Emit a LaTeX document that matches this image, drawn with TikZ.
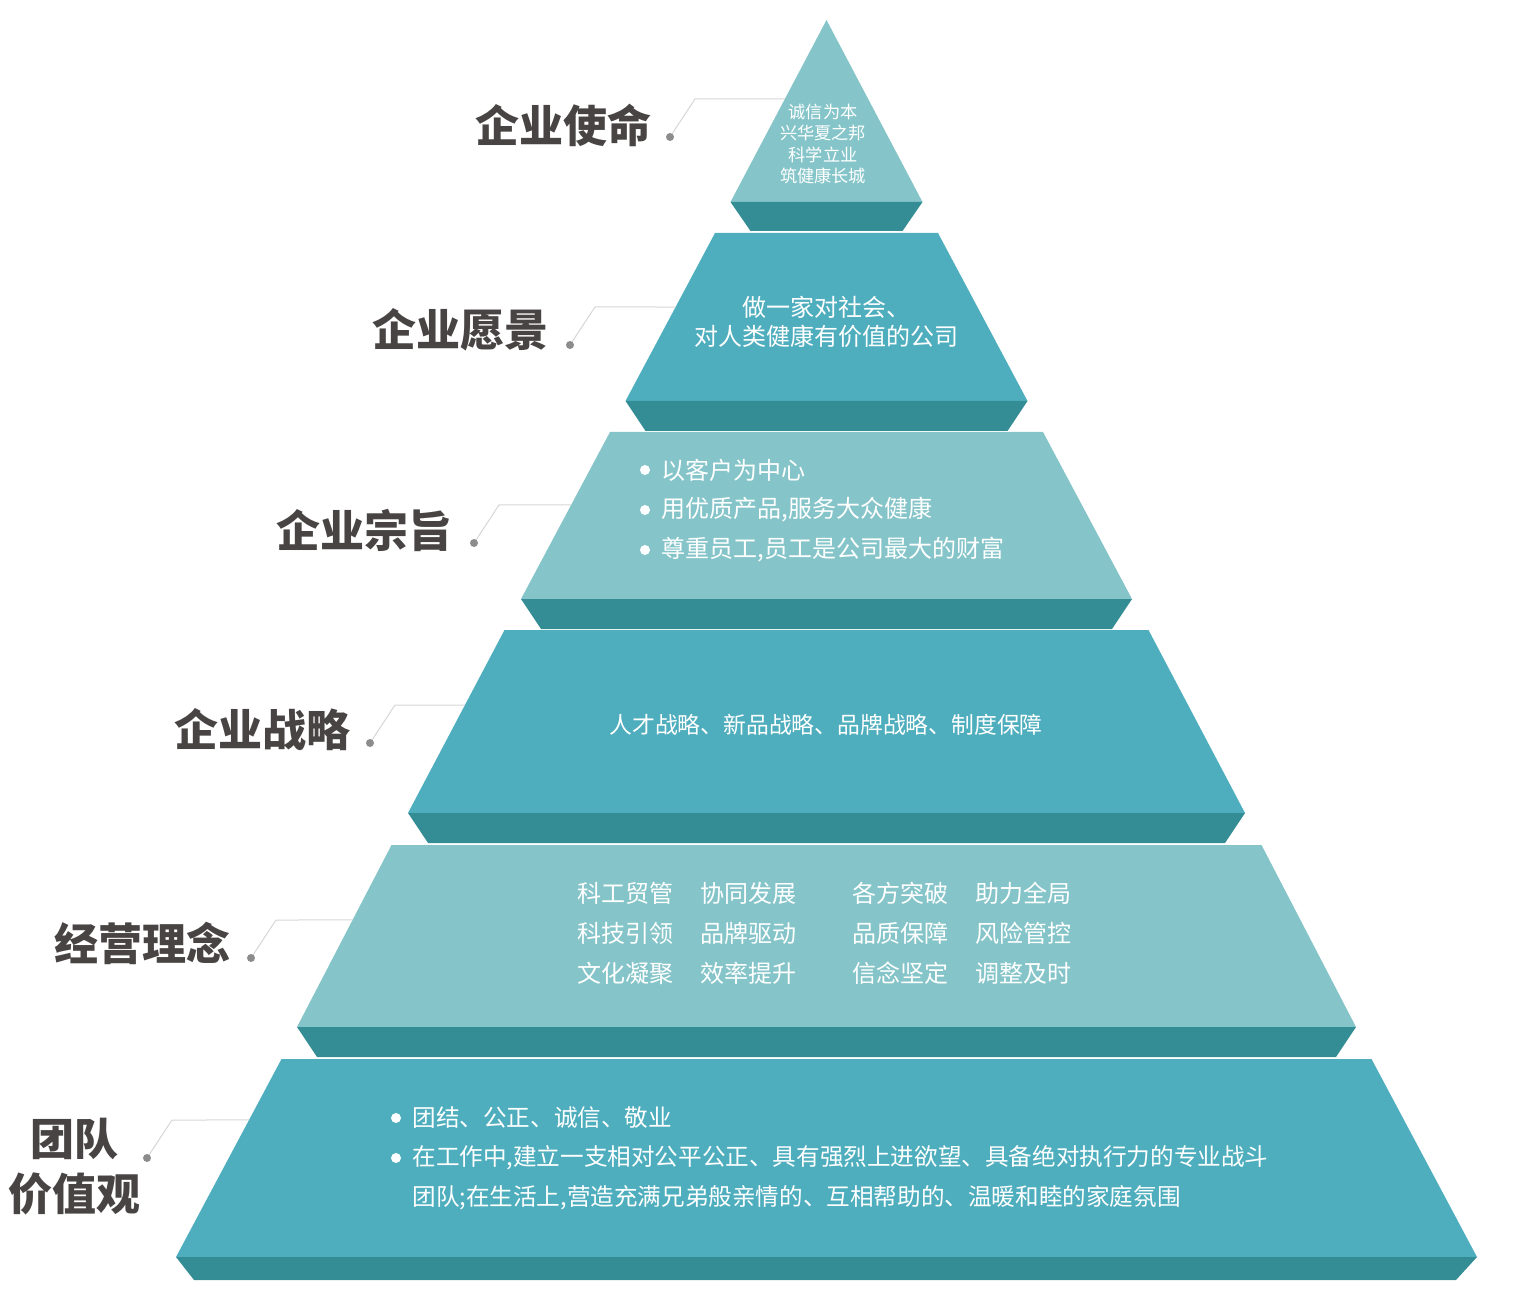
\documentclass[tikz,border=0pt]{standalone}
\usepackage{fontspec}
\setmainfont{Noto Sans CJK SC}
\usepackage{xcolor}
\usepackage{tikz}
\usetikzlibrary{calc}
\definecolor{facelight}{RGB}{133,197,201}
\definecolor{facedeep}{RGB}{79,174,190}
\definecolor{faceband}{RGB}{52,140,148}
\definecolor{titlegray}{RGB}{72,68,68}
\definecolor{leadgray}{RGB}{214,214,214}
\definecolor{dotgray}{RGB}{140,140,140}

\begin{document}
\begin{tikzpicture}[
    x=0.5pt, y=-0.5pt,
    light/.style={fill=facelight},
    deep/.style={fill=facedeep},
    band/.style={fill=faceband},
    title/.style={text=titlegray, font=\fontsize{22}{27.5}\selectfont\bfseries, inner sep=0pt, anchor=east, align=center},
    body/.style={text=white, font=\fontsize{12}{20}\selectfont, inner sep=0pt},
    leader/.style={draw=leadgray, line width=0.5pt},
    knob/.style={fill=dotgray}
]
\useasboundingbox (0,0) rectangle (1520,1304);
% pyramid layers, top to bottom
\fill[light] (826.5,20) coordinate (m top) -- (922.5,202) coordinate (m r) -- (730.5,202) coordinate (m l) -- cycle;
\fill[band] (m l) -- (m r) -- ++(-20,29) -- ($(m l)+(20,29)$) -- cycle;
\fill[deep] (715,233) coordinate (v tl) -- (938,233) coordinate (v tr) -- (1027.5,401) coordinate (v r) -- (625.5,401) coordinate (v l) -- cycle;
\fill[band] (v l) -- (v r) -- ++(-20,30) -- ($(v l)+(20,30)$) -- cycle;
\fill[light] (610,432) coordinate (a tl) -- (1043,432) coordinate (a tr) -- (1132,599) coordinate (a r) -- (521,599) coordinate (a l) -- cycle;
\fill[band] (a l) -- (a r) -- ++(-20,30) -- ($(a l)+(20,30)$) -- cycle;
\fill[deep] (504.5,630) coordinate (s tl) -- (1148.5,630) coordinate (s tr) -- (1245,813) coordinate (s r) -- (408,813) coordinate (s l) -- cycle;
\fill[band] (s l) -- (s r) -- ++(-20,30) -- ($(s l)+(20,30)$) -- cycle;
\fill[light] (391.5,845) coordinate (o tl) -- (1261.5,845) coordinate (o tr) -- (1356,1027) coordinate (o r) -- (297,1027) coordinate (o l) -- cycle;
\fill[band] (o l) -- (o r) -- ++(-20,30) -- ($(o l)+(20,30)$) -- cycle;
\fill[deep] (281.5,1059) coordinate (t tl) -- (1371.5,1059) coordinate (t tr) -- (1477,1257) coordinate (t r) -- (176,1257) coordinate (t l) -- cycle;
\fill[band] (t l) -- (t r) -- ++(-21,23) -- ($(t l)+(18,23)$) -- cycle;
% texts on the layers
\node[body, font=\fontsize{8.6}{10.7}\selectfont, align=center] (mission) at (823,144) {诚信为本\\兴华夏之邦\\科学立业\\筑健康长城};
\node[body, font=\fontsize{12}{14.5}\selectfont, align=center] (vision) at (826,322) {做一家对社会、\\对人类健康有价值的公司};
\node[body, anchor=west] (aim a) at (661,470) {以客户为中心};
\node[body, anchor=west] (aim b) at (661,510) {用优质产品,服务大众健康};
\node[body, anchor=west] (aim c) at (661,550) {尊重员工,员工是公司最大的财富};
\fill[white] ($(aim a.west)+(-16,0)$) circle (5);
\fill[white] ($(aim b.west)+(-16,0)$) circle (5);
\fill[white] ($(aim c.west)+(-16,0)$) circle (5);
\node[body, font=\fontsize{11.4}{14}\selectfont] (strategy) at (826,725) {人才战略、新品战略、品牌战略、制度保障};
\node[body, anchor=west, align=left] (idea a) at (577,933) {科工贸管\\科技引领\\文化凝聚};
\node[body, anchor=west, align=left] (idea b) at (700,933) {协同发展\\品牌驱动\\效率提升};
\node[body, anchor=west, align=left] (idea c) at (852,933) {各方突破\\品质保障\\信念坚定};
\node[body, anchor=west, align=left] (idea d) at (975,933) {助力全局\\风险管控\\调整及时};
\node[body, font=\fontsize{11.8}{20}\selectfont, anchor=west] (team a) at (412,1118) {团结、公正、诚信、敬业};
\node[body, font=\fontsize{11.8}{20}\selectfont, anchor=west] (team b) at (412,1158) {在工作中,建立一支相对公平公正、具有强烈上进欲望、具备绝对执行力的专业战斗};
\node[body, font=\fontsize{11.8}{20}\selectfont, anchor=west] (team c) at (412,1198) {团队;在生活上,营造充满兄弟般亲情的、互相帮助的、温暖和睦的家庭氛围};
\fill[white] ($(team a.west)+(-16,0)$) circle (5);
\fill[white] ($(team b.west)+(-16,0)$) circle (5);
% titles with leaders
\node[title] (mission title) at (652,125) {企业使命};
\node[title] (vision title) at (549,330) {企业愿景};
\node[title] (aim title) at (453,530) {企业宗旨};
\node[title] (strategy title) at (351,730) {企业战略};
\node[title] (idea title) at (231,943) {经营理念};
\node[title, anchor=center] (team title) at (75,1167) {团队\\价值观};
\coordinate (mission dot) at (670,137);
\coordinate (mission edge) at ($(m top)!0.434!(m l)$);
\coordinate (vision dot) at (570,345);
\coordinate (vision edge) at ($(v tl)!0.4405!(v l)$);
\coordinate (aim dot) at (474,543);
\coordinate (aim edge) at ($(a tl)!0.437!(a l)$);
\coordinate (strategy dot) at (370,743);
\coordinate (strategy edge) at ($(s tl)!0.41!(s l)$);
\coordinate (idea dot) at (251,958);
\coordinate (idea edge) at ($(o tl)!0.412!(o l)$);
\coordinate (team dot) at (147,1158);
\coordinate (team edge) at ($(t tl)!0.308!(t l)$);
\draw[leader] (mission dot) -- ++(25,-38) -- (mission edge);
\draw[leader] (vision dot) -- ++(25,-38) -- (vision edge);
\draw[leader] (aim dot) -- ++(25,-38) -- (aim edge);
\draw[leader] (strategy dot) -- ++(25,-38) -- (strategy edge);
\draw[leader] (idea dot) -- ++(25,-38) -- (idea edge);
\draw[leader] (team dot) -- ++(25,-38) -- (team edge);
\fill[knob] (mission dot) circle (4);
\fill[knob] (vision dot) circle (4);
\fill[knob] (aim dot) circle (4);
\fill[knob] (strategy dot) circle (4);
\fill[knob] (idea dot) circle (4);
\fill[knob] (team dot) circle (4);
\end{tikzpicture}
\end{document}
